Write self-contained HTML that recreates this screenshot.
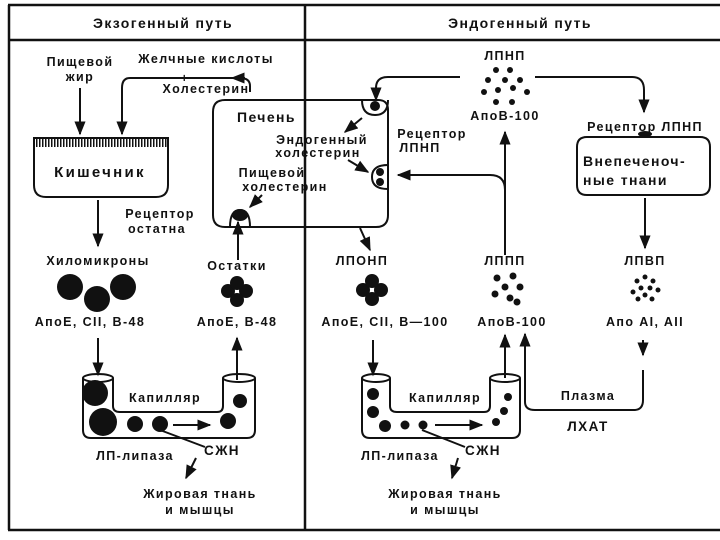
<!DOCTYPE html>
<html><head><meta charset="utf-8"><style>
html,body{margin:0;padding:0;background:#fff}
svg{display:block}
text{font-family:"Liberation Sans",sans-serif;font-weight:bold;fill:#111;letter-spacing:1.4px}
</style></head><body>
<svg width="720" height="540" viewBox="0 0 720 540" xmlns="http://www.w3.org/2000/svg">
<defs>
<marker id="a" viewBox="0 0 10 10" refX="9" refY="5" markerWidth="7" markerHeight="7" orient="auto-start-reverse"><path d="M0,1 L10,5 L0,9 z" fill="#111"/></marker>
<pattern id="v" width="3" height="8" patternUnits="userSpaceOnUse"><rect width="1.5" height="8" fill="#111"/></pattern>
</defs>
<g fill="none" stroke="#111" stroke-width="2.5">
<line x1="8" y1="5" x2="720" y2="5"/>
<line x1="8" y1="40" x2="720" y2="40"/>
<line x1="9" y1="5" x2="9" y2="530"/>
<line x1="305" y1="5" x2="305" y2="530"/>
<line x1="8" y1="530" x2="720" y2="530"/>
</g>
<g font-size="14" text-anchor="middle" style="letter-spacing:2px">
<text x="163" y="28">Экзогенный путь</text>
<text x="520" y="28">Эндогенный путь</text>
</g>
<g font-size="12.5" text-anchor="middle">
<text x="80" y="66">Пищевой</text><text x="80" y="81">жир</text>
<text x="206" y="63">Желчные кислоты</text>
<text x="206" y="93">Холестерин</text>
<text x="100" y="177" font-size="15" style="letter-spacing:2.3px">Кишечник</text>
<text x="160" y="218">Рецептор</text><text x="157" y="233">остатна</text>
<text x="98" y="265">Хиломикроны</text>
<text x="237" y="270">Остатки</text>
<text x="90" y="326">АпоЕ, СII, В-48</text>
<text x="237" y="326">АпоЕ, В-48</text>
<text x="165" y="402">Капилляр</text>
<text x="135" y="460">ЛП-липаза</text>
<text x="222" y="455" font-size="13.5">СЖН</text>
<text x="200" y="498">Жировая тнань</text><text x="200" y="514">и мышцы</text>
<text x="237" y="122" font-size="14" text-anchor="start">Печень</text>
<text x="322" y="144">Эндогенный</text><text x="318" y="157">холестерин</text>
<text x="272" y="177">Пищевой</text><text x="285" y="191">холестерин</text>
<text x="432" y="138">Рецептор</text><text x="420" y="152">ЛПНП</text>
<text x="505" y="60">ЛПНП</text>
<text x="505" y="120">АпоВ-100</text>
<text x="645" y="131">Рецептор ЛПНП</text>
<text x="583" y="166" font-size="14" text-anchor="start">Внепеченоч-</text>
<text x="583" y="185" font-size="14" text-anchor="start">ные тнани</text>
<text x="362" y="265">ЛПОНП</text>
<text x="505" y="265">ЛППП</text>
<text x="645" y="265">ЛПВП</text>
<text x="385" y="326">АпоЕ, СII, В—100</text>
<text x="512" y="326">АпоВ-100</text>
<text x="645" y="326">Апо AI, AII</text>
<text x="445" y="402">Капилляр</text>
<text x="588" y="400">Плазма</text>
<text x="588" y="431" font-size="13.5">ЛХАТ</text>
<text x="400" y="460">ЛП-липаза</text>
<text x="483" y="455" font-size="13.5">СЖН</text>
<text x="445" y="498">Жировая тнань</text><text x="445" y="514">и мышцы</text>
</g>
<g fill="none" stroke="#111" stroke-width="2">
<path d="M34,138 H168 V185 Q168,197 156,197 H46 Q34,197 34,185 Z"/>
<rect x="35" y="139" width="132" height="8" fill="url(#v)" stroke="none"/>
<line x1="80" y1="88" x2="80" y2="134" marker-end="url(#a)"/>
<path d="M250,92 V86 Q250,78 240,78 H130 Q122,78 122,88 V134" marker-end="url(#a)"/>
<line x1="245" y1="78" x2="232" y2="78" marker-end="url(#a)"/>
<text x="185" y="82" font-size="12" text-anchor="middle" stroke="none">+</text>
<line x1="98" y1="200" x2="98" y2="246" marker-end="url(#a)"/>
<path d="M225,100 H378 Q388,100 388,110 V215 Q388,227 376,227 H225 Q213,227 213,215 V112 Q213,100 225,100 Z"/>
<line x1="238" y1="260" x2="238" y2="222" marker-end="url(#a)"/>
<line x1="98" y1="338" x2="98" y2="375" marker-end="url(#a)"/>
<line x1="237" y1="380" x2="237" y2="338" marker-end="url(#a)"/>
<path d="M83,378 V430 Q83,438 91,438 H247 Q255,438 255,430 V378"/>
<path d="M113,378 V406 Q113,412 120,412 H217 Q223,412 223,406 V378"/>
<ellipse cx="98" cy="378" rx="15" ry="4"/>
<ellipse cx="239" cy="378" rx="16" ry="4"/>
<line x1="173" y1="425" x2="210" y2="425" marker-end="url(#a)"/>
<line x1="160" y1="430" x2="205" y2="447"/>
<line x1="196" y1="458" x2="186" y2="478" marker-end="url(#a)"/>
<path d="M460,77 H388 Q376,77 376,88 V100" marker-end="url(#a)"/>
<path d="M535,77 H632 Q644,77 644,90 V112" marker-end="url(#a)"/>
<line x1="505" y1="255" x2="505" y2="132" marker-end="url(#a)"/>
<path d="M505,190 Q505,175 490,175 H398" marker-end="url(#a)"/>
<path d="M587,137 H700 Q710,137 710,147 V185 Q710,195 700,195 H587 Q577,195 577,185 V147 Q577,137 587,137 Z"/>
<line x1="645" y1="198" x2="645" y2="248" marker-end="url(#a)"/>
<line x1="360" y1="228" x2="370" y2="250" marker-end="url(#a)"/>
<line x1="373" y1="340" x2="373" y2="375" marker-end="url(#a)"/>
<line x1="505" y1="378" x2="505" y2="335" marker-end="url(#a)"/>
<path d="M525,345 V402 Q525,410 535,410 H634 Q643,410 643,400 V370"/>
<line x1="525" y1="360" x2="525" y2="334" marker-end="url(#a)"/>
<line x1="643" y1="340" x2="643" y2="355" marker-end="url(#a)"/>
<path d="M362,378 V430 Q362,438 370,438 H512 Q520,438 520,430 V378"/>
<path d="M390,378 V406 Q390,412 397,412 H484 Q490,412 490,406 V378"/>
<ellipse cx="376" cy="378" rx="14" ry="4"/>
<ellipse cx="505" cy="378" rx="15" ry="4"/>
<line x1="435" y1="425" x2="482" y2="425" marker-end="url(#a)"/>
<line x1="422" y1="430" x2="465" y2="447"/>
<line x1="458" y1="458" x2="452" y2="478" marker-end="url(#a)"/>
<path d="M230,227 Q230,210 240,210 Q250,210 250,227"/>
<path d="M388,165 Q372,165 372,177 Q372,189 388,189"/>
<path d="M362,100 Q362,115 375,115 Q388,115 388,100"/>
<line x1="262" y1="195" x2="250" y2="207" marker-end="url(#a)"/>
<line x1="348" y1="160" x2="368" y2="172" marker-end="url(#a)"/>
<line x1="362" y1="118" x2="345" y2="132" marker-end="url(#a)"/>
</g>
<g fill="#111">
<ellipse cx="240" cy="215" rx="8" ry="6"/>
<circle cx="380" cy="172" r="4"/><circle cx="380" cy="182" r="4"/>
<circle cx="375" cy="106" r="5"/>
<ellipse cx="645" cy="134" rx="7" ry="3"/>
<circle cx="70" cy="287" r="13"/><circle cx="97" cy="299" r="13"/><circle cx="123" cy="287" r="13"/>
<circle cx="228" cy="291" r="7"/><circle cx="246" cy="291" r="7"/><circle cx="237" cy="283" r="7"/><circle cx="237" cy="300" r="7"/>
<circle cx="95" cy="393" r="13"/><circle cx="103" cy="422" r="14"/>
<circle cx="135" cy="424" r="8"/><circle cx="160" cy="424" r="8"/>
<circle cx="240" cy="401" r="7"/><circle cx="228" cy="421" r="8"/>
<circle cx="363" cy="290" r="7"/><circle cx="381" cy="290" r="7"/><circle cx="372" cy="281" r="7"/><circle cx="372" cy="299" r="7"/>
<circle cx="496" cy="70" r="3"/><circle cx="510" cy="70" r="3"/><circle cx="488" cy="80" r="3"/><circle cx="505" cy="80" r="3"/><circle cx="520" cy="80" r="3"/>
<circle cx="484" cy="92" r="3"/><circle cx="498" cy="90" r="3"/><circle cx="513" cy="88" r="3"/><circle cx="527" cy="92" r="3"/>
<circle cx="496" cy="102" r="3"/><circle cx="512" cy="102" r="3"/>
<circle cx="497" cy="278" r="3.5"/><circle cx="513" cy="276" r="3.5"/><circle cx="505" cy="287" r="3.5"/><circle cx="520" cy="287" r="3.5"/>
<circle cx="495" cy="294" r="3.5"/><circle cx="510" cy="298" r="3.5"/><circle cx="517" cy="302" r="3.5"/>
<circle cx="637" cy="281" r="2.5"/><circle cx="645" cy="277" r="2.5"/><circle cx="653" cy="281" r="2.5"/><circle cx="641" cy="288" r="2.5"/><circle cx="650" cy="288" r="2.5"/><circle cx="658" cy="290" r="2.5"/><circle cx="633" cy="292" r="2.5"/><circle cx="645" cy="295" r="2.5"/><circle cx="652" cy="299" r="2.5"/><circle cx="638" cy="299" r="2.5"/>
<circle cx="373" cy="394" r="6"/><circle cx="373" cy="412" r="6"/><circle cx="385" cy="426" r="6"/>
<circle cx="405" cy="425" r="4.5"/><circle cx="423" cy="425" r="4.5"/>
<circle cx="508" cy="397" r="4"/><circle cx="504" cy="411" r="4"/><circle cx="496" cy="422" r="4"/>
</g>
</svg>
</body></html>
